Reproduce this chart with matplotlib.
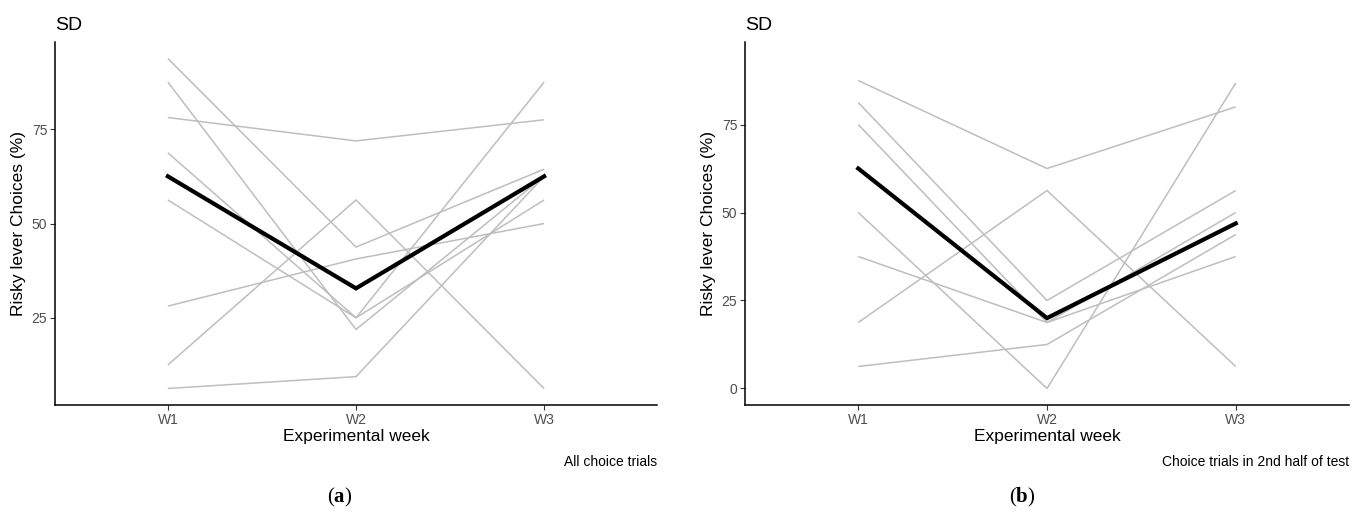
import numpy as np
import matplotlib
matplotlib.use("Agg")
from matplotlib import pyplot as plt

plt.rcParams['font.family'] = ['Liberation Sans', 'DejaVu Sans']
plt.rcParams['mathtext.fontset'] = 'custom'
plt.rcParams['mathtext.bf'] = 'Liberation Serif:bold'
plt.rcParams['mathtext.rm'] = 'Liberation Serif'

weeks = ['W1', 'W2', 'W3']

# panel (a): all choice trials, one row per rat
all_trials = [
    [93.75, 43.75, 64.4],
    [87.5, 21.9, 62.5],
    [78.1, 71.9, 77.5],
    [68.75, 25.0, 87.5],
    [56.25, 25.0, 56.25],
    [28.1, 40.6, 50.0],
    [12.5, 56.25, 6.25],
    [6.25, 9.4, 62.5],
]
all_median = [62.5, 32.8, 62.5]

# panel (b): choice trials in 2nd half of test
second_half = [
    [87.5, 62.5, 80.0],
    [81.25, 25.0, 56.25],
    [75.0, 18.75, 50.0],
    [50.0, 0.0, 86.8],
    [37.5, 18.75, 37.5],
    [18.75, 56.25, 6.25],
    [6.25, 12.5, 43.75],
]
second_median = [62.5, 20.0, 46.9]

W, H = 1364, 515
fig = plt.figure(figsize=(W / 100, H / 100), dpi=100)


def px_axes(x0, x1, y0, y1):
    return fig.add_axes([x0 / W, 1 - y1 / H, (x1 - x0) / W, (y1 - y0) / H])


def draw_panel(ax, lines, median, ylim, yticks, caption):
    x = np.arange(1, len(weeks) + 1)
    for row in lines:
        ax.plot(x, row, color='#BEBEBE', lw=1.1, solid_capstyle='butt', zorder=2)
    ax.plot(x, median, color='black', lw=3.0, solid_joinstyle='miter', zorder=3)
    ax.set_xlim(0.4, 3.6)
    ax.set_ylim(*ylim)
    ax.set_xticks(x)
    ax.set_xticklabels(weeks)
    ax.set_yticks(yticks)
    ax.set_yticklabels([str(t) for t in yticks])
    for s in ['top', 'right']:
        ax.spines[s].set_visible(False)
    for s in ['left', 'bottom']:
        ax.spines[s].set_linewidth(1.1)
        ax.spines[s].set_color('black')
    ax.tick_params(axis='both', length=3.5, width=0.8, color='#333333',
                   labelcolor='#4D4D4D', labelsize=10, pad=2)
    ax.set_xlabel('Experimental week', fontsize=12.5, labelpad=2)
    ax.set_ylabel('Risky lever Choices (%)', fontsize=12.5, labelpad=4)
    ax.set_title('SD', loc='left', fontsize=14, pad=9, x=0.0)
    ax.text(1.0, -0.139, caption, transform=ax.transAxes, ha='right', va='top',
            fontsize=10)


ax1 = px_axes(55, 657, 42, 405)
draw_panel(ax1, all_trials, all_median, (1.875, 98.125), [25, 50, 75],
           'All choice trials')

ax2 = px_axes(745, 1349, 42, 405)
draw_panel(ax2, second_half, second_median, (-4.69, 98.44), [0, 25, 50, 75],
           'Choice trials in 2nd half of test')

fig.text(340 / W, 1 - 497 / H, r'($\mathbf{a}$)', ha='center', va='center',
         fontsize=15, family='Liberation Serif')
fig.text(1022 / W, 1 - 497 / H, r'($\mathbf{b}$)', ha='center', va='center',
         fontsize=15, family='Liberation Serif')

fig.savefig('out.png', dpi=100, facecolor='white')
